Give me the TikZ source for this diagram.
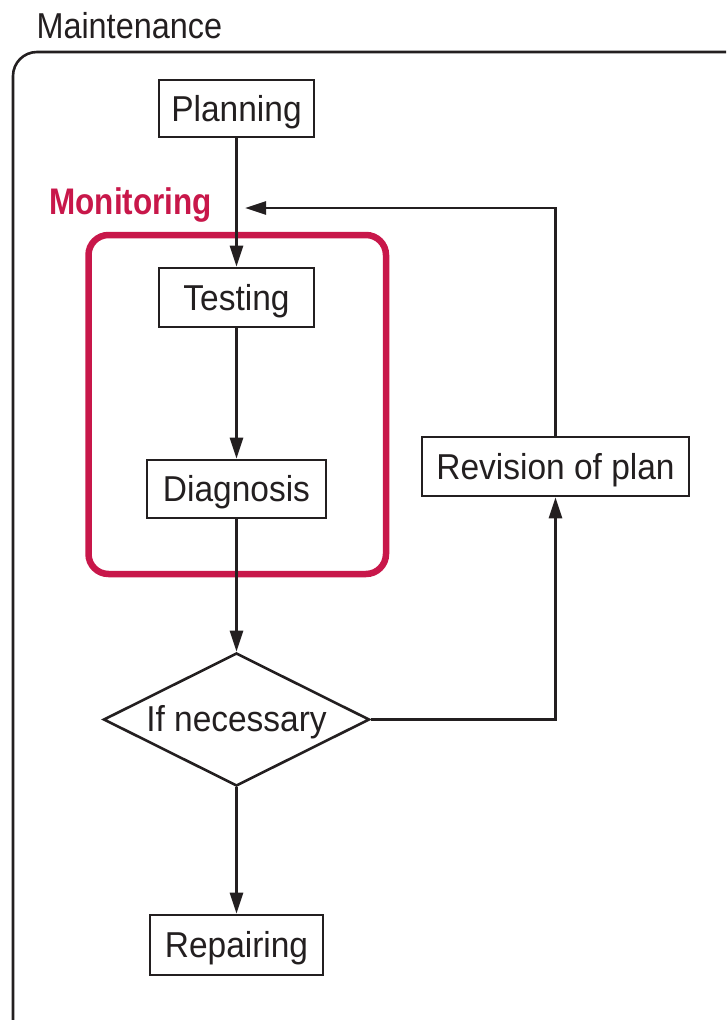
\documentclass[tikz,border=0pt]{standalone}
\usepackage{fontspec}
\setmainfont{Liberation Sans}[FakeStretch=0.93]
\newfontfamily\monfont{Liberation Sans}[FakeStretch=0.85]
\newfontfamily\maintfont{Liberation Sans}[FakeStretch=0.90]
\usetikzlibrary{shapes.geometric,arrows.meta}
\definecolor{ink}{HTML}{231F20}
\definecolor{monred}{HTML}{C8174A}
\begin{document}
\begin{tikzpicture}[x=1pt,y=-1pt,
  every node/.style={font=\fontsize{36}{40}\selectfont, text=ink},
  stepbox/.style={draw=ink, line width=2.6pt, inner sep=0pt, text height=25pt, text depth=0pt},
  decision/.style={diamond, draw=ink, line width=2.6pt, inner sep=0pt, aspect=2,
     minimum width=266pt, minimum height=133pt, text height=23pt, text depth=0pt},
  flow/.style={draw=ink, line width=2.5pt, -{Triangle[length=21pt,width=13pt]}},
  plain/.style={draw=ink, line width=2.5pt}]
\useasboundingbox (0,0) rectangle (726,1020);
% outer frame
\begin{scope}
  \clip (0,0) rectangle (726,1020);
  \draw[ink, line width=2.6pt, rounded corners=24pt] (13,52) rectangle (750,1045);
\end{scope}
\node[anchor=base west, font=\fontsize{36}{40}\maintfont] (maint) at (33,38) {Maintenance};
% monitoring frame
\draw[monred, line width=6.5pt, rounded corners=20pt] (88.5,235) rectangle (386,574);
\node[anchor=base west, text=monred, font=\fontsize{37}{40}\monfont\bfseries] (mon) at (46,214) {Monitoring};
% nodes
\node[stepbox, minimum width=155pt, minimum height=57pt] (plan) at (236.5,108.5) {Planning};
\node[stepbox, minimum width=155pt, minimum height=59pt] (test) at (236.5,297.5) {Testing};
\node[stepbox, minimum width=179pt, minimum height=58pt] (diag) at (236.5,489) {Diagnosis};
\node[decision] (dec) at (236.5,719.5) {If necessary};
\node[stepbox, minimum width=173pt, minimum height=60pt] (rep) at (236.5,945) {Repairing};
\node[stepbox, minimum width=267pt, minimum height=59pt] (rev) at (555.5,466.5) {Revision of plan};
\coordinate (fb) at (245,208);
% connectors
\draw[flow] (plan.south) -- (test.north);
\draw[flow] (test.south) -- (diag.north);
\draw[flow] (diag.south) -- (dec.north);
\draw[flow] (dec.south) -- (rep.north);
\draw[flow] (dec.east) -| (rev.south);
\draw[flow] (rev.north) |- (fb);
\end{tikzpicture}
\end{document}
